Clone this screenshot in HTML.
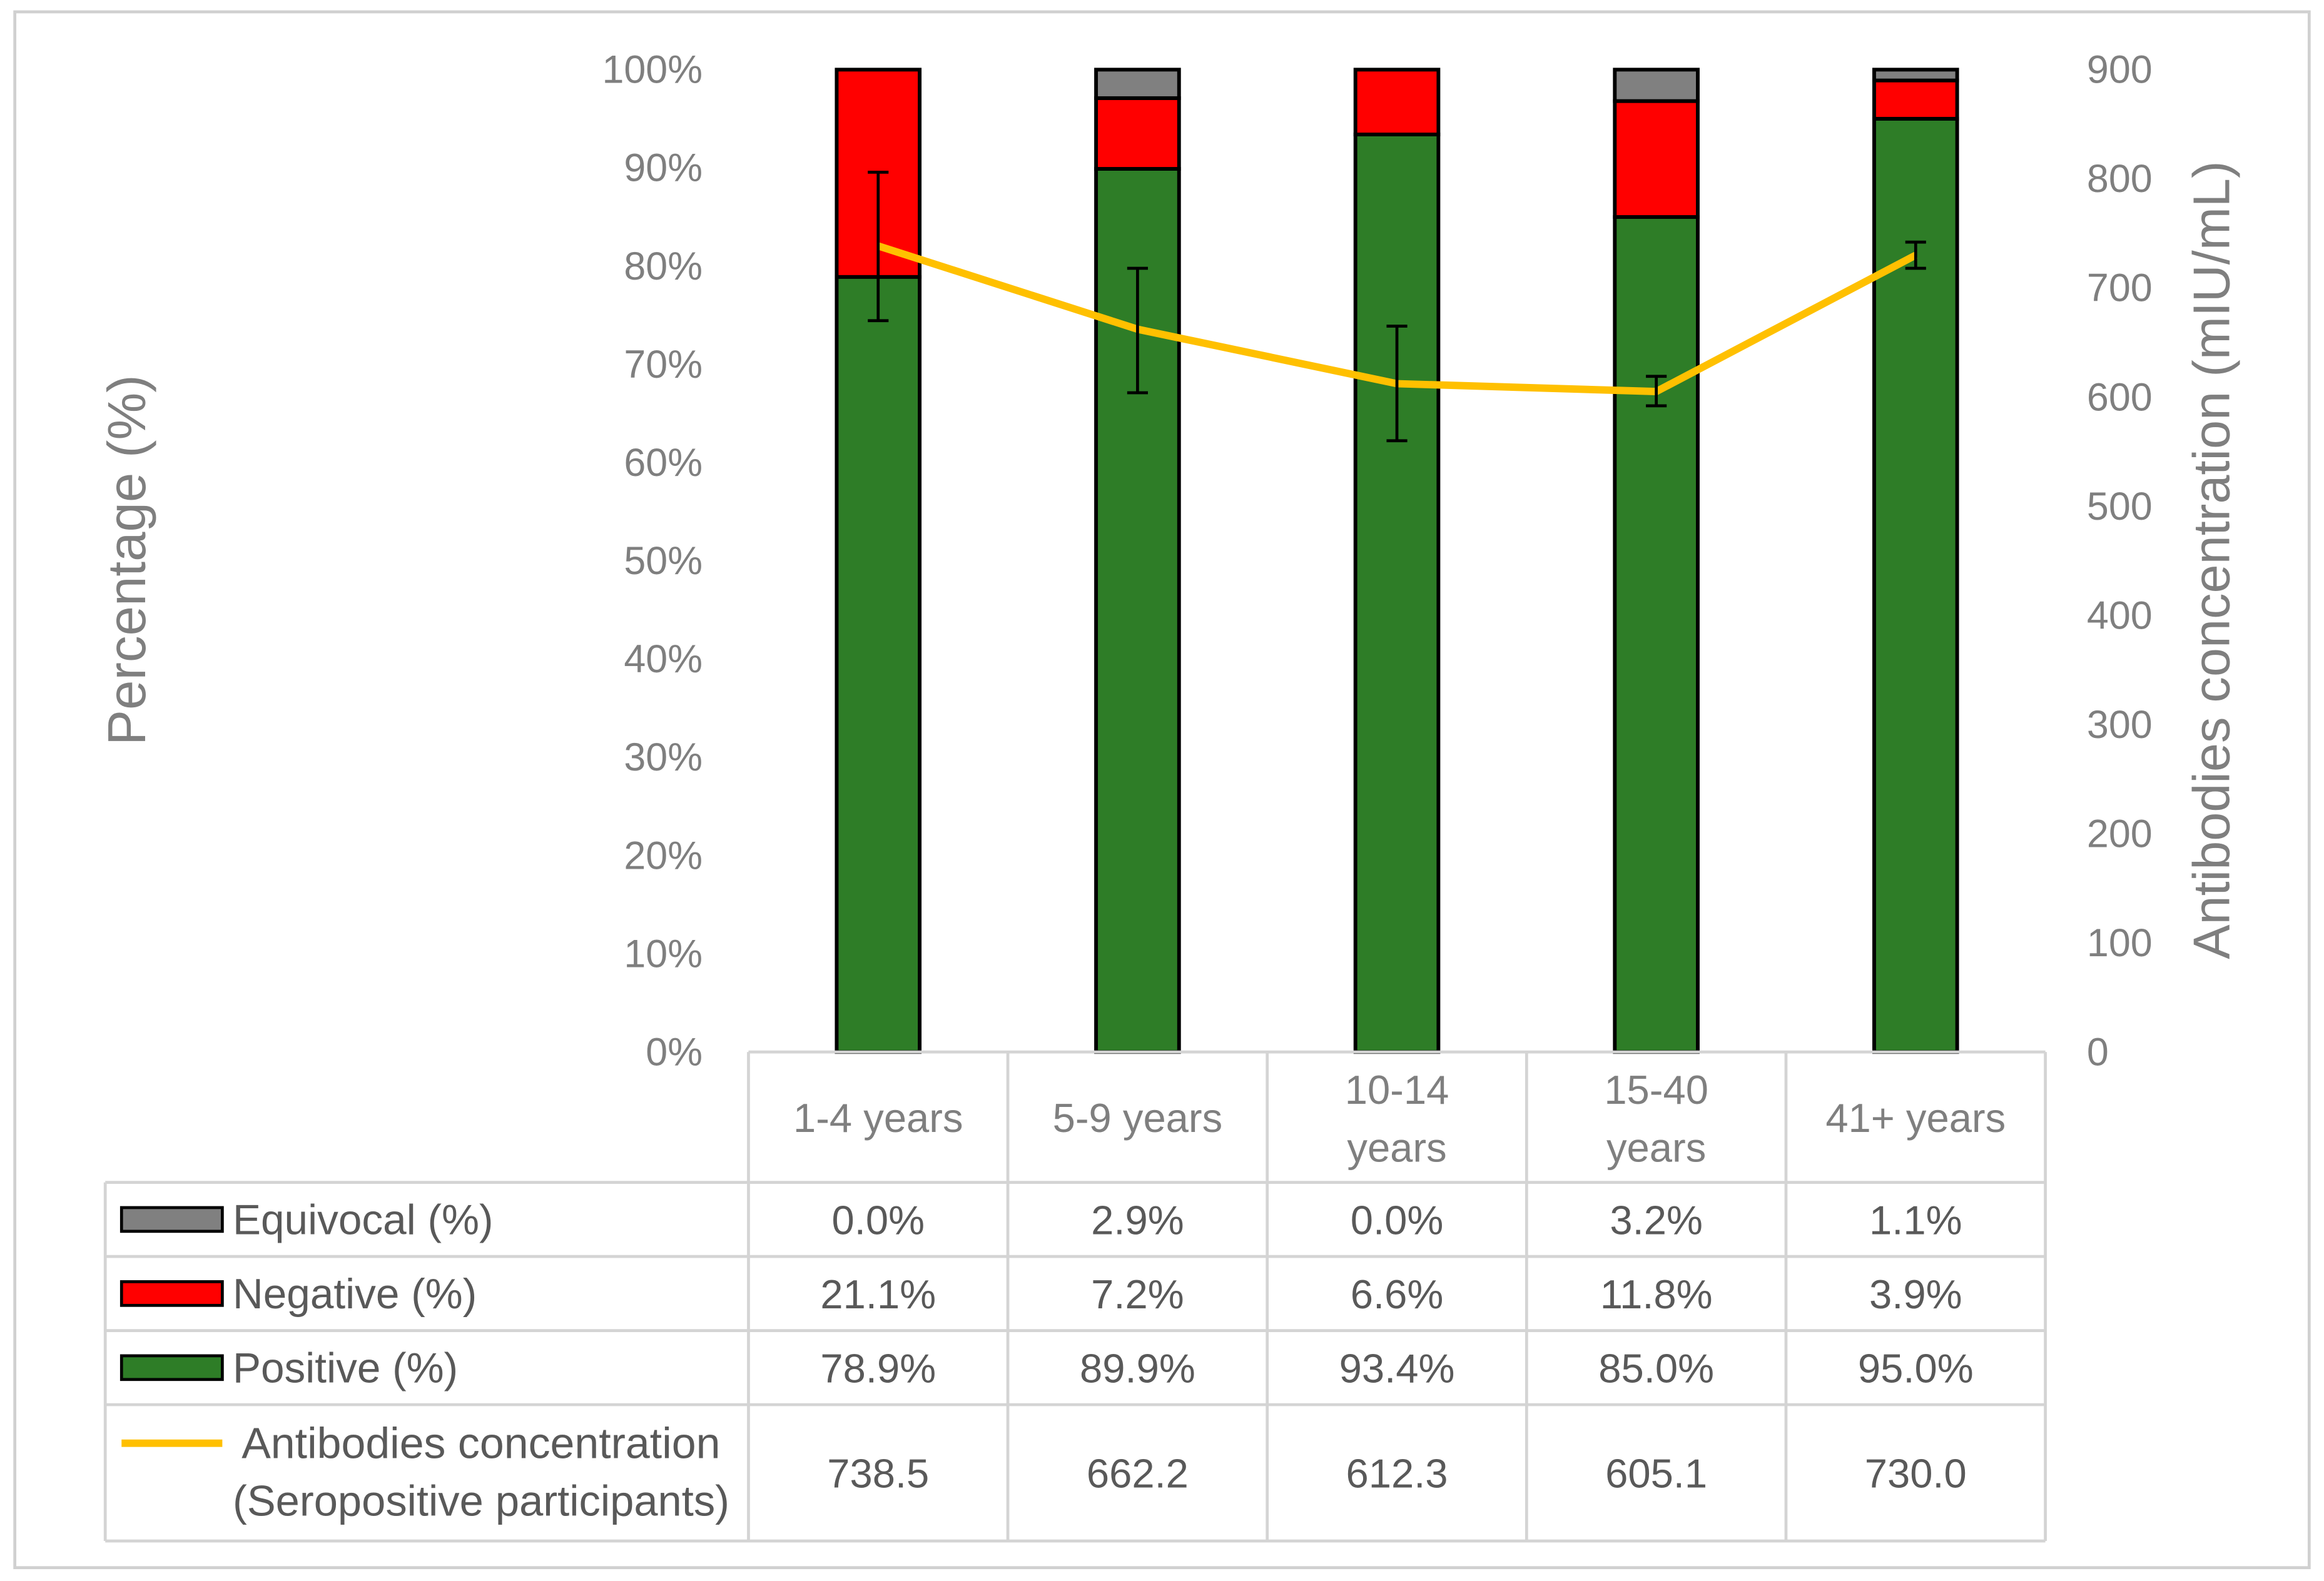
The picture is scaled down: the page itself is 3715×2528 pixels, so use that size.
<!DOCTYPE html>
<html><head><meta charset="utf-8"><style>
html,body{margin:0;padding:0;background:#fff}
svg{display:block}
text{font-family:"Liberation Sans",sans-serif}
</style></head><body>
<svg id="chart" width="3715" height="2528" viewBox="0 0 1568 1067" preserveAspectRatio="none" xmlns="http://www.w3.org/2000/svg">
<rect x="10" y="8" width="1548" height="1050" fill="#fff" stroke="#d0d0d0" stroke-width="2"/>
<g id="grid"></g>
<g id="bars"></g>
<g id="line"></g>
<g id="table"></g>
<text transform="translate(98,378) rotate(-90)" text-anchor="middle" font-size="36" fill="#7f7f7f">Percentage (%)</text>
<text transform="translate(1504,378) rotate(-90)" text-anchor="middle" font-size="35" fill="#7f7f7f">Antibodies concentration (mIU/mL)</text>
</svg>
<script>
const categories=["1-4 years","5-9 years","10-14 years","15-40 years","41+ years"];
const catLines=[["1-4 years"],["5-9 years"],["10-14","years"],["15-40","years"],["41+ years"]];
const positive=[78.9,89.9,93.4,85.0,95.0];
const negative=[21.1,7.2,6.6,11.8,3.9];
const equivocal=[0.0,2.9,0.0,3.2,1.1];
const conc=[738.5,662.2,612.3,605.1,730.0];
const errHigh=[806,718,665,619,742];
const errLow=[670,604,560,592,718];
const pctTicks=[0,10,20,30,40,50,60,70,80,90,100];
const concTicks=[0,100,200,300,400,500,600,700,800,900];

const NS="http://www.w3.org/2000/svg";
const x0=505,colW=175,yBase=710,yTop=47;
const yP=v=>yBase-(v/100)*(yBase-yTop);
const yC=v=>yBase-(v/900)*(yBase-yTop);
const xC=i=>x0+colW*i+colW/2;
function mk(tag,attrs,parent,txt){const e=document.createElementNS(NS,tag);for(const k in attrs)e.setAttribute(k,attrs[k]);if(txt!==undefined)e.textContent=txt;parent.appendChild(e);return e;}
const grid=document.getElementById('grid'),bars=document.getElementById('bars'),lineG=document.getElementById('line'),tbl=document.getElementById('table');
pctTicks.forEach(t=>{const e=mk('text',{x:474,y:yP(t)+9,'text-anchor':'end','font-size':26.5,fill:'#7f7f7f'},grid,t+'%');

});
concTicks.forEach(t=>{const e=mk('text',{x:1408,y:yC(t)+9,'text-anchor':'start','font-size':26.5,fill:'#7f7f7f'},grid,String(t));

});
const bw=56;
categories.forEach((c,i)=>{
 const cx=xC(i);
 const segs=[[positive[i],'#2e7d27','positive'],[negative[i],'#ff0000','negative'],[equivocal[i],'#808080','equivocal']];
 let acc=0;
 segs.forEach(s=>{if(s[0]<=0)return;const y1=yP(acc+s[0]),y2=yP(acc);
  const r=mk('rect',{x:cx-bw/2,y:y1,width:bw,height:y2-y1,fill:s[1],stroke:'#000','stroke-width':2.5},bars);
  
  
  acc+=s[0];});
});
let pts=conc.map((v,i)=>xC(i)+','+yC(v)).join(' ');
const pl=mk('polyline',{points:pts,fill:'none',stroke:'#ffc000','stroke-width':5,'stroke-linejoin':'round'},lineG);


conc.forEach((v,i)=>{const cx=xC(i);
 const g=mk('g',{stroke:'#000','stroke-width':2},lineG);
 
 
 mk('line',{x1:cx,x2:cx,y1:yC(errHigh[i]),y2:yC(errLow[i])},g);
 mk('line',{x1:cx-7,x2:cx+7,y1:yC(errHigh[i]),y2:yC(errHigh[i])},g);
 mk('line',{x1:cx-7,x2:cx+7,y1:yC(errLow[i]),y2:yC(errLow[i])},g);
});
const rowsY=[710,798,848,898,948,1040];
const gl={stroke:'#d4d4d4','stroke-width':2};
for(let i=0;i<=5;i++){mk('line',Object.assign({x1:x0+colW*i,x2:x0+colW*i,y1:710,y2:1040},gl),tbl);}
mk('line',Object.assign({x1:71,x2:71,y1:798,y2:1040},gl),tbl);
mk('line',Object.assign({x1:x0,x2:1380,y1:710,y2:710},gl),tbl);
for(let r=1;r<6;r++)mk('line',Object.assign({x1:71,x2:1380,y1:rowsY[r],y2:rowsY[r]},gl),tbl);
catLines.forEach((ls,i)=>{ls.forEach((l,j)=>{const y=ls.length===1?764:745+j*39;
 const t=mk('text',{x:xC(i),y:y,'text-anchor':'middle','font-size':27.5,fill:'#7f7f7f'},tbl,l);
 
 });});
const rowData=[[equivocal,'#808080','Equivocal (%)'],[negative,'#ff0000','Negative (%)'],[positive,'#2e7d27','Positive (%)']];
rowData.forEach((rd,r)=>{const cy=(rowsY[r+1]+rowsY[r+2])/2;
 const k=mk('rect',{x:82,y:cy-8,width:68,height:16,fill:rd[1],stroke:'#000','stroke-width':2},tbl);
 
 
 const lt=mk('text',{x:157,y:cy+10,'font-size':28.5,fill:'#595959'},tbl,rd[2]);
 
 
 rd[0].forEach((v,i)=>{const t=mk('text',{x:xC(i),y:cy+10,'text-anchor':'middle','font-size':27.5,fill:'#595959'},tbl,v.toFixed(1)+'%');
  
  });
});
const lk=mk('line',{x1:82,x2:150,y1:974,y2:974,stroke:'#ffc000','stroke-width':5},tbl);


const l1=mk('text',{x:163,y:984,'font-size':29.5,fill:'#595959'},tbl,'Antibodies concentration');


const l2=mk('text',{x:157,y:1023,'font-size':29,fill:'#595959'},tbl,'(Seropositive participants)');


conc.forEach((v,i)=>{const t=mk('text',{x:xC(i),y:1004,'text-anchor':'middle','font-size':27.5,fill:'#595959'},tbl,v.toFixed(1));
 
 });
</script>
</body></html>
